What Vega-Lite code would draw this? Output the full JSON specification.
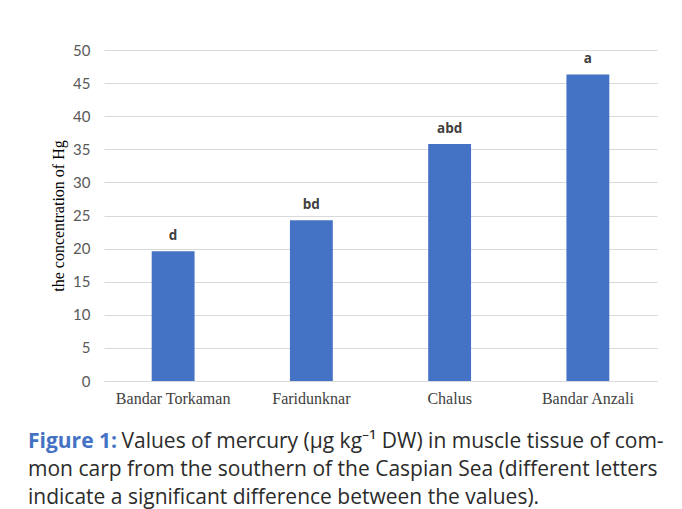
{
  "$schema": "https://vega.github.io/schema/vega-lite/v6.json",
  "width": 553,
  "height": 331,
  "autosize": {"type": "none"},
  "padding": {"left": 104, "top": 50, "right": 25, "bottom": 128},
  "background": "white",
  "data": {
    "values": [
      {"site": "Bandar Torkaman", "hg": 19.6, "group": "d"},
      {"site": "Faridunknar", "hg": 24.3, "group": "bd"},
      {"site": "Chalus", "hg": 35.8, "group": "abd"},
      {"site": "Bandar Anzali", "hg": 46.3, "group": "a"}
    ]
  },
  "title": {
    "text": "Figure 1:",
    "subtitle": [
      "mon carp from the southern of the Caspian Sea (different letters",
      "indicate a significant difference between the values)."
    ],
    "orient": "bottom",
    "anchor": "start",
    "frame": "group",
    "dx": -76,
    "offset": -20,
    "font": "Open Sans",
    "fontSize": 21,
    "fontWeight": "bold",
    "color": "#4472c4",
    "subtitleFont": "Open Sans",
    "subtitleFontSize": 21,
    "subtitleColor": "#2b2b2b",
    "subtitleLineHeight": 28,
    "subtitlePadding": 7
  },
  "encoding": {
    "x": {
      "field": "site",
      "type": "nominal",
      "sort": null,
      "scale": {"paddingInner": 0.69, "paddingOuter": 0.345},
      "axis": {
        "title": "Values of mercury (µg kg⁻¹ DW) in muscle tissue of com-",
        "titleFont": "Open Sans",
        "titleFontSize": 21,
        "titleFontWeight": "normal",
        "titleColor": "#2b2b2b",
        "titleX": 17,
        "titleY": 66,
        "titleAlign": "left",
        "titleAnchor": "start",
        "titleBaseline": "alphabetic",
        "labelAngle": 0,
        "labelFont": "Liberation Serif",
        "labelFontSize": 16,
        "labelColor": "#404040",
        "labelPadding": 9,
        "ticks": false,
        "domainColor": "#d9d9d9",
        "grid": false
      }
    },
    "y": {
      "field": "hg",
      "type": "quantitative",
      "scale": {"domain": [0, 50], "nice": false},
      "axis": {
        "title": "the concentration of Hg",
        "titleFont": "Liberation Serif",
        "titleFontSize": 16,
        "titleFontWeight": "normal",
        "titleColor": "#000000",
        "titlePadding": 6,
        "values": [0, 5, 10, 15, 20, 25, 30, 35, 40, 45, 50],
        "labelFont": "Lato",
        "labelFontSize": 15,
        "labelColor": "#595959",
        "labelPadding": 14,
        "ticks": false,
        "domain": false,
        "gridColor": "#d9d9d9",
        "gridWidth": 1
      }
    }
  },
  "layer": [
    {"mark": {"type": "bar", "color": "#4472c4"}},
    {
      "mark": {"type": "text", "baseline": "alphabetic", "dy": -11, "font": "Open Sans", "fontSize": 13.5, "fontWeight": "bold", "color": "#404040"},
      "encoding": {"text": {"field": "group"}}
    }
  ],
  "config": {"view": {"stroke": null}}
}
